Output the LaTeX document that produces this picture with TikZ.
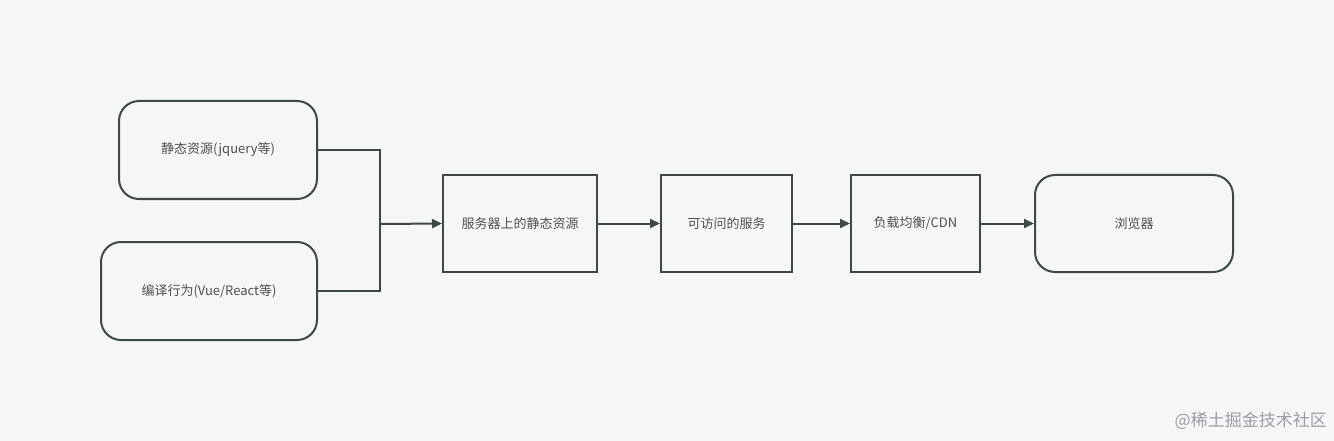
\documentclass[tikz,border=0pt]{standalone}
\usepackage{fontspec}
\setmainfont{Noto Sans CJK SC}
\usetikzlibrary{arrows.meta}
\definecolor{bg}{HTML}{F4F6F8}
\definecolor{ln}{HTML}{3E4848}
\definecolor{tx}{HTML}{4F4F4F}
\definecolor{wm}{HTML}{9A9DA3}
\tikzset{
  boxbase/.style={draw=ln, line width=2pt, fill=bg, text=tx, font=\fontsize{13}{15}\selectfont, inner sep=0pt},
  rbox/.style={boxbase, rounded corners=20pt},
  sbox/.style={boxbase},
  conn/.style={draw=ln, line width=2pt},
  arr/.style={conn, -{Triangle[length=10pt,width=9pt]}},
}
\begin{document}
\begin{tikzpicture}[x=1pt,y=-1pt]
\fill[bg] (0,0) rectangle (1334,441);
\useasboundingbox (0,0) rectangle (1334,441);
\node[rbox, minimum width=198pt, minimum height=98pt] (b1) at (218,150) {静态资源(jquery等)};
\node[rbox, minimum width=216pt, minimum height=98pt] (b2) at (209,291) {编译行为(Vue/React等)};
\coordinate (j) at (380,224);
\node[sbox, minimum width=154pt, minimum height=97pt] (b3) at (520,223.5) {服务器上的静态资源};
\node[sbox, minimum width=131pt, minimum height=97pt] (b4) at (726.5,223.5) {可访问的服务};
\node[sbox, minimum width=129pt, minimum height=97pt] (b5) at (915.5,223.5) {负载均衡/CDN};
\node[rbox, minimum width=198pt, minimum height=97pt] (b6) at (1134,223.5) {浏览器};
\draw[conn] (b1.east) -| (j);
\draw[conn] (b2.east) -| (j);
\draw[arr] (j) -- (b3.west);
\draw[arr] (b3) -- (b4);
\draw[arr] (b4) -- (b5);
\draw[arr] (b5) -- (b6);
\node[text=wm, font=\fontsize{17}{19}\selectfont, anchor=east, inner sep=0pt] (wmk) at (1327,421) {@稀土掘金技术社区};
\end{tikzpicture}
\end{document}
